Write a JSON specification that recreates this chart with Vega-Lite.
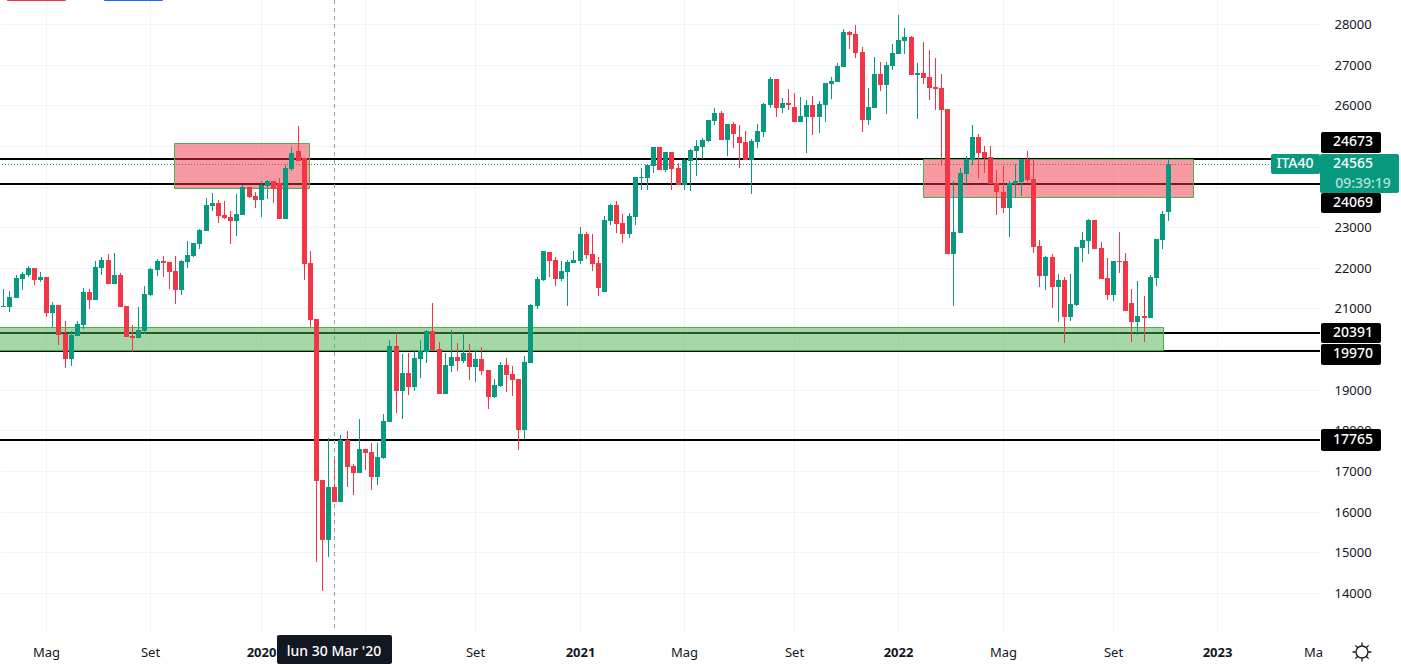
{
  "$schema": "https://vega.github.io/schema/vega-lite/v6.json",
  "background": "white",
  "autosize": {"type": "none"},
  "padding": {"left": 0, "top": 0, "right": 81, "bottom": 32},
  "width": 1320,
  "height": 632,
  "config": {
    "view": {"stroke": null},
    "axis": {"labelFont": "Noto Sans", "labelFontSize": 13, "labelColor": "#131722", "domain": false, "ticks": false, "gridColor": "#f0f3fa"}
  },
  "datasets": {
    "candles": [
      {"date":"2019-03-18","open":21037,"high":21480,"low":21037,"close":21061},
      {"date":"2019-03-25","open":21037,"high":21430,"low":20914,"close":21283},
      {"date":"2019-04-01","open":21258,"high":21824,"low":21258,"close":21750},
      {"date":"2019-04-08","open":21726,"high":21898,"low":21455,"close":21849},
      {"date":"2019-04-15","open":21824,"high":22046,"low":21775,"close":21996},
      {"date":"2019-04-22","open":21996,"high":21996,"low":21578,"close":21701},
      {"date":"2019-04-29","open":21701,"high":21898,"low":21652,"close":21775},
      {"date":"2019-05-06","open":21775,"high":21775,"low":20791,"close":20889},
      {"date":"2019-05-13","open":20889,"high":21160,"low":20545,"close":21086},
      {"date":"2019-05-20","open":21086,"high":21086,"low":20102,"close":20348},
      {"date":"2019-05-27","open":20372,"high":20692,"low":19536,"close":19757},
      {"date":"2019-06-03","open":19757,"high":20446,"low":19585,"close":20348},
      {"date":"2019-06-10","open":20323,"high":20692,"low":20323,"close":20618},
      {"date":"2019-06-17","open":20594,"high":21504,"low":20495,"close":21406},
      {"date":"2019-06-24","open":21406,"high":21480,"low":20987,"close":21209},
      {"date":"2019-07-01","open":21209,"high":22169,"low":21209,"close":22021},
      {"date":"2019-07-08","open":21996,"high":22267,"low":21824,"close":22193},
      {"date":"2019-07-15","open":22193,"high":22341,"low":21603,"close":21603},
      {"date":"2019-07-22","open":21603,"high":22365,"low":21603,"close":21824},
      {"date":"2019-07-29","open":21824,"high":21873,"low":21037,"close":21037},
      {"date":"2019-08-05","open":21061,"high":21061,"low":20299,"close":20299},
      {"date":"2019-08-12","open":20323,"high":20594,"low":19929,"close":20274},
      {"date":"2019-08-19","open":20274,"high":21037,"low":20274,"close":20471},
      {"date":"2019-08-26","open":20446,"high":21553,"low":20372,"close":21357},
      {"date":"2019-09-02","open":21332,"high":21996,"low":21307,"close":21972},
      {"date":"2019-09-09","open":21947,"high":22218,"low":21799,"close":22169},
      {"date":"2019-09-16","open":22169,"high":22292,"low":21775,"close":22119},
      {"date":"2019-09-23","open":22144,"high":22144,"low":21480,"close":21898},
      {"date":"2019-09-30","open":21923,"high":22292,"low":21111,"close":21455},
      {"date":"2019-10-07","open":21455,"high":22193,"low":21332,"close":22169},
      {"date":"2019-10-14","open":22144,"high":22661,"low":21996,"close":22316},
      {"date":"2019-10-21","open":22292,"high":22611,"low":22267,"close":22611},
      {"date":"2019-10-28","open":22587,"high":22956,"low":22464,"close":22931},
      {"date":"2019-11-04","open":22907,"high":23719,"low":22907,"close":23546},
      {"date":"2019-11-11","open":23522,"high":23842,"low":23399,"close":23596},
      {"date":"2019-11-18","open":23596,"high":23670,"low":23104,"close":23276},
      {"date":"2019-11-25","open":23300,"high":23645,"low":23202,"close":23227},
      {"date":"2019-12-02","open":23251,"high":23399,"low":22587,"close":23153},
      {"date":"2019-12-09","open":23153,"high":23817,"low":22784,"close":23325},
      {"date":"2019-12-16","open":23300,"high":24039,"low":23300,"close":23989},
      {"date":"2019-12-23","open":23989,"high":23989,"low":23719,"close":23743},
      {"date":"2019-12-30","open":23768,"high":23866,"low":23473,"close":23670},
      {"date":"2020-01-06","open":23670,"high":24137,"low":23251,"close":24039},
      {"date":"2020-01-13","open":24014,"high":24162,"low":23694,"close":24137},
      {"date":"2020-01-20","open":24137,"high":24137,"low":23596,"close":23940},
      {"date":"2020-01-27","open":24088,"high":24211,"low":23202,"close":23202},
      {"date":"2020-02-03","open":23202,"high":24531,"low":23202,"close":24457},
      {"date":"2020-02-10","open":24432,"high":24974,"low":24383,"close":24826},
      {"date":"2020-02-17","open":24875,"high":25490,"low":24629,"close":24629},
      {"date":"2020-02-24","open":24703,"high":24703,"low":21701,"close":22095},
      {"date":"2020-03-02","open":22119,"high":22415,"low":20545,"close":20717},
      {"date":"2020-03-09","open":20741,"high":20741,"low":14770,"close":16764},
      {"date":"2020-03-16","open":16780,"high":16780,"low":14049,"close":15304},
      {"date":"2020-03-23","open":15304,"high":17813,"low":14885,"close":16608},
      {"date":"2020-03-30","open":16608,"high":17346,"low":16239,"close":16239},
      {"date":"2020-04-06","open":16239,"high":17887,"low":16239,"close":17764},
      {"date":"2020-04-13","open":17764,"high":17986,"low":16608,"close":17100},
      {"date":"2020-04-20","open":17124,"high":17174,"low":16411,"close":16952},
      {"date":"2020-04-27","open":16952,"high":18281,"low":16952,"close":17543},
      {"date":"2020-05-04","open":17543,"high":17543,"low":17026,"close":17444},
      {"date":"2020-05-11","open":17469,"high":17690,"low":16534,"close":16854},
      {"date":"2020-05-18","open":16854,"high":17690,"low":16657,"close":17346},
      {"date":"2020-05-25","open":17321,"high":18404,"low":17297,"close":18232},
      {"date":"2020-06-01","open":18207,"high":20225,"low":18207,"close":20077},
      {"date":"2020-06-08","open":20077,"high":20397,"low":18429,"close":18970},
      {"date":"2020-06-15","open":18970,"high":19880,"low":18281,"close":19413},
      {"date":"2020-06-22","open":19413,"high":19905,"low":18871,"close":19068},
      {"date":"2020-06-29","open":19068,"high":19979,"low":18970,"close":19782},
      {"date":"2020-07-06","open":19757,"high":20225,"low":19290,"close":19954},
      {"date":"2020-07-13","open":19929,"high":20471,"low":19659,"close":20446},
      {"date":"2020-07-20","open":20446,"high":21135,"low":19954,"close":19979},
      {"date":"2020-07-27","open":20003,"high":20176,"low":18896,"close":18896},
      {"date":"2020-08-03","open":18896,"high":19905,"low":18896,"close":19610},
      {"date":"2020-08-10","open":19585,"high":20471,"low":19437,"close":19806},
      {"date":"2020-08-17","open":19806,"high":20151,"low":19462,"close":19708},
      {"date":"2020-08-24","open":19708,"high":20397,"low":19659,"close":19905},
      {"date":"2020-08-31","open":19905,"high":20126,"low":19241,"close":19560},
      {"date":"2020-09-07","open":19560,"high":19979,"low":19191,"close":19757},
      {"date":"2020-09-14","open":19757,"high":20053,"low":19364,"close":19462},
      {"date":"2020-09-21","open":19487,"high":19487,"low":18527,"close":18822},
      {"date":"2020-09-28","open":18822,"high":19265,"low":18798,"close":19117},
      {"date":"2020-10-05","open":19093,"high":19683,"low":19068,"close":19610},
      {"date":"2020-10-12","open":19610,"high":19782,"low":18945,"close":19364},
      {"date":"2020-10-19","open":19388,"high":19585,"low":18847,"close":19241},
      {"date":"2020-10-26","open":19265,"high":19265,"low":17518,"close":18010},
      {"date":"2020-11-02","open":18010,"high":19831,"low":17789,"close":19683},
      {"date":"2020-11-09","open":19659,"high":21111,"low":19659,"close":21086},
      {"date":"2020-11-16","open":21061,"high":21775,"low":20987,"close":21726},
      {"date":"2020-11-23","open":21701,"high":22415,"low":21676,"close":22415},
      {"date":"2020-11-30","open":22390,"high":22390,"low":21775,"close":22168},
      {"date":"2020-12-07","open":22193,"high":22267,"low":21553,"close":21726},
      {"date":"2020-12-14","open":21726,"high":22168,"low":21676,"close":21922},
      {"date":"2020-12-21","open":21898,"high":22193,"low":21061,"close":22144},
      {"date":"2020-12-28","open":22119,"high":22415,"low":22119,"close":22193},
      {"date":"2021-01-04","open":22168,"high":23005,"low":22095,"close":22833},
      {"date":"2021-01-11","open":22833,"high":22882,"low":22218,"close":22316},
      {"date":"2021-01-18","open":22341,"high":22833,"low":21922,"close":22095},
      {"date":"2021-01-25","open":22119,"high":22267,"low":21307,"close":21504},
      {"date":"2021-02-01","open":21406,"high":23276,"low":21406,"close":23177},
      {"date":"2021-02-08","open":23153,"high":23571,"low":23054,"close":23546},
      {"date":"2021-02-15","open":23546,"high":23645,"low":22857,"close":23079},
      {"date":"2021-02-22","open":23103,"high":23325,"low":22611,"close":22833},
      {"date":"2021-03-01","open":22833,"high":23350,"low":22734,"close":23276},
      {"date":"2021-03-08","open":23251,"high":24235,"low":23054,"close":24235},
      {"date":"2021-03-15","open":24211,"high":24457,"low":23915,"close":24235},
      {"date":"2021-03-22","open":24211,"high":24555,"low":23915,"close":24531},
      {"date":"2021-03-29","open":24506,"high":24974,"low":24334,"close":24974},
      {"date":"2021-04-05","open":24974,"high":24974,"low":24408,"close":24408},
      {"date":"2021-04-12","open":24408,"high":24850,"low":24358,"close":24850},
      {"date":"2021-04-19","open":24850,"high":24850,"low":23915,"close":24432},
      {"date":"2021-04-26","open":24457,"high":24580,"low":24038,"close":24038},
      {"date":"2021-05-03","open":24038,"high":24678,"low":23915,"close":24654},
      {"date":"2021-05-10","open":24629,"high":24924,"low":23891,"close":24900},
      {"date":"2021-05-17","open":24875,"high":25146,"low":24260,"close":24998},
      {"date":"2021-05-24","open":24974,"high":25195,"low":24678,"close":25146},
      {"date":"2021-05-31","open":25121,"high":25638,"low":25097,"close":25638},
      {"date":"2021-06-07","open":25613,"high":25933,"low":25515,"close":25810},
      {"date":"2021-06-14","open":25810,"high":25859,"low":25146,"close":25146},
      {"date":"2021-06-21","open":25146,"high":25539,"low":24752,"close":25539},
      {"date":"2021-06-28","open":25539,"high":25589,"low":24949,"close":25293},
      {"date":"2021-07-05","open":25220,"high":25515,"low":24457,"close":25072},
      {"date":"2021-07-12","open":25097,"high":25367,"low":24654,"close":24654},
      {"date":"2021-07-19","open":24653,"high":25170,"low":23817,"close":25121},
      {"date":"2021-07-26","open":25096,"high":25539,"low":24948,"close":25367},
      {"date":"2021-08-02","open":25342,"high":26056,"low":25219,"close":26031},
      {"date":"2021-08-09","open":26006,"high":26695,"low":25933,"close":26646},
      {"date":"2021-08-16","open":26646,"high":26646,"low":25711,"close":25933},
      {"date":"2021-08-23","open":25933,"high":26179,"low":25810,"close":26056},
      {"date":"2021-08-30","open":26056,"high":26400,"low":25883,"close":26006},
      {"date":"2021-09-06","open":25957,"high":26302,"low":25588,"close":25588},
      {"date":"2021-09-13","open":25588,"high":26203,"low":25588,"close":25736},
      {"date":"2021-09-20","open":25711,"high":26129,"low":24825,"close":26006},
      {"date":"2021-09-27","open":26006,"high":26228,"low":25268,"close":25711},
      {"date":"2021-10-04","open":25711,"high":26105,"low":25317,"close":26031},
      {"date":"2021-10-11","open":26006,"high":26548,"low":25588,"close":26548},
      {"date":"2021-10-18","open":26523,"high":26695,"low":26154,"close":26597},
      {"date":"2021-10-25","open":26572,"high":27040,"low":26572,"close":26966},
      {"date":"2021-11-01","open":26941,"high":27876,"low":26941,"close":27803},
      {"date":"2021-11-08","open":27803,"high":27827,"low":27384,"close":27729},
      {"date":"2021-11-15","open":27753,"high":27975,"low":27163,"close":27286},
      {"date":"2021-11-22","open":27311,"high":27434,"low":25342,"close":25637},
      {"date":"2021-11-29","open":25637,"high":26425,"low":25514,"close":25957},
      {"date":"2021-12-06","open":25933,"high":27188,"low":25933,"close":26769},
      {"date":"2021-12-13","open":26769,"high":27064,"low":26351,"close":26499},
      {"date":"2021-12-20","open":26499,"high":27064,"low":25785,"close":26991},
      {"date":"2021-12-27","open":26966,"high":27507,"low":26868,"close":27286},
      {"date":"2022-01-03","open":27261,"high":28221,"low":27261,"close":27606},
      {"date":"2022-01-10","open":27581,"high":27901,"low":27261,"close":27680},
      {"date":"2022-01-17","open":27680,"high":27704,"low":26745,"close":26745},
      {"date":"2022-01-24","open":26745,"high":27040,"low":25662,"close":26794},
      {"date":"2022-01-31","open":26794,"high":27557,"low":26523,"close":26671},
      {"date":"2022-02-07","open":26695,"high":27360,"low":26129,"close":26425},
      {"date":"2022-02-14","open":26449,"high":27163,"low":25883,"close":26400},
      {"date":"2022-02-21","open":26425,"high":26769,"low":24506,"close":25883},
      {"date":"2022-02-28","open":25908,"high":25908,"low":22340,"close":22340},
      {"date":"2022-03-07","open":22340,"high":24137,"low":21061,"close":22882},
      {"date":"2022-03-14","open":22857,"high":24457,"low":22857,"close":24334},
      {"date":"2022-03-21","open":24309,"high":24752,"low":24063,"close":24678},
      {"date":"2022-03-28","open":24653,"high":25515,"low":24530,"close":25219},
      {"date":"2022-04-04","open":25219,"high":25293,"low":24210,"close":24826},
      {"date":"2022-04-11","open":24850,"high":24998,"low":24334,"close":24703},
      {"date":"2022-04-18","open":24727,"high":24998,"low":24063,"close":24063},
      {"date":"2022-04-25","open":24087,"high":24407,"low":23300,"close":23866},
      {"date":"2022-05-02","open":23866,"high":24506,"low":23349,"close":23472},
      {"date":"2022-05-09","open":23472,"high":24137,"low":22759,"close":24087},
      {"date":"2022-05-16","open":24063,"high":24555,"low":23718,"close":24137},
      {"date":"2022-05-23","open":24112,"high":24678,"low":23768,"close":24678},
      {"date":"2022-05-30","open":24678,"high":24875,"low":24112,"close":24161},
      {"date":"2022-06-06","open":24186,"high":24678,"low":22365,"close":22513},
      {"date":"2022-06-13","open":22538,"high":22685,"low":21529,"close":21800},
      {"date":"2022-06-20","open":21800,"high":22292,"low":21455,"close":22267},
      {"date":"2022-06-27","open":22267,"high":22341,"low":21012,"close":21529},
      {"date":"2022-07-04","open":21529,"high":21849,"low":20668,"close":21701},
      {"date":"2022-07-11","open":21701,"high":21775,"low":20151,"close":20791},
      {"date":"2022-07-18","open":20791,"high":21849,"low":20692,"close":21111},
      {"date":"2022-07-25","open":21086,"high":22513,"low":21061,"close":22513},
      {"date":"2022-08-01","open":22489,"high":22882,"low":22144,"close":22685},
      {"date":"2022-08-08","open":22661,"high":23202,"low":22341,"close":23178},
      {"date":"2022-08-15","open":23178,"high":23178,"low":22464,"close":22464},
      {"date":"2022-08-22","open":22489,"high":22636,"low":21726,"close":21726},
      {"date":"2022-08-29","open":21750,"high":22243,"low":21209,"close":21332},
      {"date":"2022-09-05","open":21332,"high":22169,"low":21184,"close":22169},
      {"date":"2022-09-12","open":22169,"high":22882,"low":21873,"close":22144},
      {"date":"2022-09-19","open":22169,"high":22366,"low":20938,"close":20938},
      {"date":"2022-09-26","open":21135,"high":21480,"low":20176,"close":20668},
      {"date":"2022-10-03","open":20668,"high":21677,"low":20348,"close":20815},
      {"date":"2022-10-10","open":20815,"high":21308,"low":20176,"close":20766},
      {"date":"2022-10-17","open":20766,"high":21824,"low":20766,"close":21775},
      {"date":"2022-10-24","open":21750,"high":22710,"low":21553,"close":22710},
      {"date":"2022-10-31","open":22685,"high":23399,"low":22464,"close":23325},
      {"date":"2022-11-07","open":23374,"high":24678,"low":23152,"close":24565}
    ],
    "levels": [{"price": 24673}, {"price": 24069}, {"price": 20391}, {"price": 19960}, {"price": 17765}],
    "zones": [
      {"start": "2019-09-29T06:00:00Z", "end": "2020-03-01T10:00:00Z", "top": 25064, "bottom": 23957, "kind": "supply"},
      {"start": "2022-01-31T05:00:00Z", "end": "2022-12-05T05:00:00Z", "top": 24666, "bottom": 23736, "kind": "supply"},
      {"start": "2019-03-10T05:30:00Z", "end": "2022-11-01T00:00:00Z", "top": 20537, "bottom": 19985, "kind": "demand"}
    ],
    "boxes": [
      {"start": "2019-03-22T04:00:00Z", "end": "2019-05-28T15:00:00Z", "top": 28600, "bottom": 28558, "kind": "sell"},
      {"start": "2019-07-11T00:00:00Z", "end": "2019-09-16T08:00:00Z", "top": 28600, "bottom": 28558, "kind": "buy"},
      {"start": "2023-05-01T00:00:00Z", "end": "2023-07-08T05:00:00Z", "top": 25350, "bottom": 24826, "kind": "level"},
      {"start": "2023-05-01T00:00:00Z", "end": "2023-07-08T05:00:00Z", "top": 23842, "bottom": 23349, "kind": "level"},
      {"start": "2023-05-01T00:00:00Z", "end": "2023-07-08T05:00:00Z", "top": 20643, "bottom": 20140, "kind": "level"},
      {"start": "2023-05-01T00:00:00Z", "end": "2023-07-08T05:00:00Z", "top": 20115, "bottom": 19609, "kind": "level"},
      {"start": "2023-05-01T00:00:00Z", "end": "2023-07-08T05:00:00Z", "top": 18022, "bottom": 17505, "kind": "level"},
      {"start": "2023-04-29T13:00:00Z", "end": "2023-07-28T22:00:00Z", "top": 24801, "bottom": 23842, "kind": "last"},
      {"start": "2023-03-04T14:00:00Z", "end": "2023-04-30T00:00:00Z", "top": 24801, "bottom": 24309, "kind": "last"},
      {"start": "2020-01-24T14:00:00Z", "end": "2020-06-03T19:00:00Z", "top": 12966, "bottom": 12252, "kind": "cursor"}
    ],
    "labels": [
      {"date": "2023-06-06", "price": 25096, "label": "24673"},
      {"date": "2023-06-06", "price": 23595, "label": "24069"},
      {"date": "2023-06-06", "price": 20389, "label": "20391"},
      {"date": "2023-06-06", "price": 19868, "label": "19970"},
      {"date": "2023-06-06", "price": 17765, "label": "17765"},
      {"date": "2023-06-06", "price": 24555, "label": "24565"},
      {"date": "2023-06-18", "price": 24075, "label": "09:39:19"},
      {"date": "2023-04-01", "price": 24555, "label": "ITA40"},
      {"date": "2020-03-30", "price": 12547, "label": "lun 30 Mar '20"}
    ],
    "settings": [{"date": "2023-06-17", "price": 12547}]
  },
  "layer": [
    {
      "data": {"name": "levels"},
      "mark": {"type": "rule", "color": "#000000", "strokeWidth": 2},
      "encoding": {
        "y": {"field": "price", "type": "quantitative", "title": null, "scale": {"nice": false, "round": true, "domain": [13039, 28590.6]}}
      }
    },
    {
      "data": {"values": [{"price": 24565}]},
      "mark": {"type": "rule", "color": "#089981", "strokeWidth": 1, "strokeDash": [1, 2], "yOffset": 0.5},
      "encoding": {
        "y": {"field": "price", "type": "quantitative", "title": null, "scale": {"nice": false, "round": true, "domain": [13039, 28590.6]}}
      }
    },
    {
      "data": {"name": "zones", "format": {"parse": {"start": "date", "end": "date"}}},
      "mark": {"type": "rect", "stroke": "#4caf50", "strokeWidth": 1, "fillOpacity": 0.5, "xOffset": 0.5, "x2Offset": 0.5, "yOffset": 0.5, "y2Offset": 0.5},
      "encoding": {
        "x": {"field": "start", "type": "temporal", "title": null, "scale": {"type": "utc", "nice": false, "round": true, "padding": 0, "domain": ["2019-03-14T05:30:00Z", "2023-04-29T13:00:00Z"]}},
        "x2": {"field": "end"},
        "y": {"field": "top", "type": "quantitative", "title": null, "scale": {"nice": false, "round": true, "domain": [13039, 28590.6]}},
        "y2": {"field": "bottom"},
        "fill": {"condition": {"test": "datum.kind == 'supply'", "value": "#f23645"}, "value": "#4caf50"}
      }
    },
    {
      "data": {"name": "candles"},
      "mark": {"type": "rule", "strokeWidth": 1, "xOffset": 0.5},
      "encoding": {
        "x": {
          "field": "date", "type": "temporal", "title": null,
          "scale": {"type": "utc", "nice": false, "round": true, "padding": 0, "domain": ["2019-03-14T05:30:00Z", "2023-04-29T13:00:00Z"]},
          "axis": {
            "values": ["2019-05-06", "2019-09-02", "2020-01-06", "2020-05-04", "2020-09-07", "2021-01-04", "2021-05-03", "2021-09-06", "2022-01-03", "2022-05-02", "2022-09-05", "2023-01-02", "2023-04-22"],
            "labelExpr": "utcyear(datum.value) == 2020 && utcmonth(datum.value) == 4 ? '' : utcmonth(datum.value) == 0 ? utcyear(datum.value) : utcmonth(datum.value) == 4 ? 'Mag' : utcmonth(datum.value) == 8 ? 'Set' : 'Ma'",
            "labelFontWeight": {"condition": {"test": "utcmonth(datum.value) == 0", "value": "bold"}, "value": "normal"},
            "gridColor": {"condition": {"test": "utcmonth(datum.value) == 3", "value": "transparent"}, "value": "#f0f3fa"},
            "labelPadding": 14,
            "labelFlush": false,
            "labelOverlap": false
          }
        },
        "y": {
          "field": "low", "type": "quantitative", "title": null,
          "scale": {"nice": false, "round": true, "domain": [13039, 28590.6]},
          "axis": {
            "orient": "right",
            "values": [14000, 15000, 16000, 17000, 18000, 19000, 20000, 21000, 22000, 23000, 24000, 25000, 26000, 27000, 28000],
            "labelExpr": "datum.value == 20000 || datum.value == 24000 || datum.value == 25000 ? '' : format(datum.value, 'd')",
            "labelPadding": 14
          }
        },
        "y2": {"field": "high"},
        "color": {"condition": {"test": "datum.close >= datum.open", "value": "#089981"}, "value": "#f23645"}
      }
    },
    {
      "data": {"values": [{"date": "2020-03-30"}]},
      "mark": {"type": "rule", "color": "#9598a1", "strokeWidth": 1, "strokeDash": [4, 4], "xOffset": 0.5},
      "encoding": {
        "x": {"field": "date", "type": "temporal", "title": null, "scale": {"type": "utc", "nice": false, "round": true, "padding": 0, "domain": ["2019-03-14T05:30:00Z", "2023-04-29T13:00:00Z"]}}
      }
    },
    {
      "data": {"name": "candles"},
      "mark": {"type": "bar", "size": 5, "xOffset": 0.5},
      "encoding": {
        "x": {"field": "date", "type": "temporal", "title": null, "scale": {"type": "utc", "nice": false, "round": true, "padding": 0, "domain": ["2019-03-14T05:30:00Z", "2023-04-29T13:00:00Z"]}},
        "y": {"field": "open", "type": "quantitative", "title": null, "scale": {"nice": false, "round": true, "domain": [13039, 28590.6]}},
        "y2": {"field": "close"},
        "color": {"condition": {"test": "datum.close >= datum.open", "value": "#089981"}, "value": "#f23645"}
      }
    },
    {
      "data": {"name": "boxes", "format": {"parse": {"start": "date", "end": "date"}}},
      "mark": {"type": "rect", "cornerRadius": 2},
      "encoding": {
        "x": {"field": "start", "type": "temporal", "title": null, "scale": {"type": "utc", "nice": false, "round": true, "padding": 0, "domain": ["2019-03-14T05:30:00Z", "2023-04-29T13:00:00Z"]}},
        "x2": {"field": "end"},
        "y": {"field": "top", "type": "quantitative", "title": null, "scale": {"nice": false, "round": true, "domain": [13039, 28590.6]}},
        "y2": {"field": "bottom"},
        "fill": {
          "condition": [
            {"test": "datum.kind == 'level'", "value": "#000000"},
            {"test": "datum.kind == 'last'", "value": "#089981"},
            {"test": "datum.kind == 'cursor'", "value": "#131722"},
            {"test": "datum.kind == 'sell'", "value": "#f23645"}
          ],
          "value": "#2962ff"
        }
      }
    },
    {
      "data": {"name": "labels"},
      "mark": {"type": "text", "font": "Noto Sans", "fontSize": 14, "fontWeight": 500, "align": "center", "baseline": "middle"},
      "encoding": {
        "x": {"field": "date", "type": "temporal", "title": null, "scale": {"type": "utc", "nice": false, "round": true, "padding": 0, "domain": ["2019-03-14T05:30:00Z", "2023-04-29T13:00:00Z"]}},
        "y": {"field": "price", "type": "quantitative", "title": null, "scale": {"nice": false, "round": true, "domain": [13039, 28590.6]}},
        "text": {"field": "label"},
        "color": {"condition": {"test": "datum.label == '09:39:19'", "value": "#b5e1d7"}, "value": "#ffffff"}
      }
    },
    {
      "data": {"name": "settings"},
      "mark": {
        "type": "point",
        "shape": "M0.3,0A0.3,0.3 0 1,1 -0.3,0A0.3,0.3 0 1,1 0.3,0ZM0,-0.3L0,-0.47M0,0.3L0,0.47M0.3,0L0.47,0M-0.3,0L-0.47,0M0.21,-0.21L0.33,-0.33M-0.21,-0.21L-0.33,-0.33M0.21,0.21L0.33,0.33M-0.21,0.21L-0.33,0.33",
        "size": 1600,
        "filled": false,
        "stroke": "#131722",
        "strokeWidth": 1.3,
        "opacity": 1
      },
      "encoding": {
        "x": {"field": "date", "type": "temporal", "title": null, "scale": {"type": "utc", "nice": false, "round": true, "padding": 0, "domain": ["2019-03-14T05:30:00Z", "2023-04-29T13:00:00Z"]}},
        "y": {"field": "price", "type": "quantitative", "title": null, "scale": {"nice": false, "round": true, "domain": [13039, 28590.6]}}
      }
    }
  ]
}
